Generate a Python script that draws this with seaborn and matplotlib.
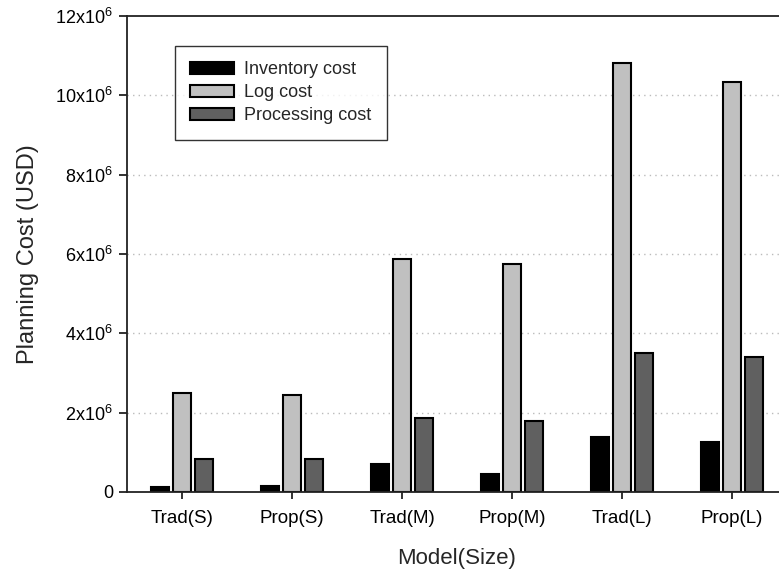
import matplotlib.pyplot as plt
import matplotlib.ticker as mticker
import pandas as pd
import seaborn as sns

sns.set_theme(style="ticks")
plt.rcParams["font.family"] = ["Liberation Sans", "DejaVu Sans"]
plt.rcParams["mathtext.fontset"] = "custom"
plt.rcParams["mathtext.rm"] = "Liberation Sans"
plt.rcParams["mathtext.it"] = "Liberation Sans"
plt.rcParams["mathtext.bf"] = "Liberation Sans:bold"

models = ["Trad(S)", "Prop(S)", "Trad(M)", "Prop(M)", "Trad(L)", "Prop(L)"]
inventory_cost = [0.12e6, 0.14e6, 0.71e6, 0.45e6, 1.39e6, 1.26e6]
log_cost = [2.49e6, 2.45e6, 5.87e6, 5.75e6, 10.82e6, 10.34e6]
processing_cost = [0.83e6, 0.82e6, 1.87e6, 1.78e6, 3.50e6, 3.40e6]
series_names = ["Inventory cost", "Log cost", "Processing cost"]
colors = ["#000000", "#C0C0C0", "#606060"]

rows = []
for name, vals in zip(series_names, [inventory_cost, log_cost, processing_cost]):
    for m, v in zip(models, vals):
        rows.append({"model": m, "cost": name, "value": v})
df = pd.DataFrame(rows)

fig = plt.figure(figsize=(7.79, 5.74), dpi=100)
W, H = 779, 574
# axes right edge lies just outside the picture, as in the reference
ax = fig.add_axes([127 / W, 1 - 492 / H, (787 - 127) / W, (492 - 16) / H])

sns.barplot(data=df, x="model", y="value", hue="cost", hue_order=series_names,
            palette=colors, width=0.6, gap=0.15, edgecolor="black", linewidth=1.5,
            saturation=1, ax=ax, legend=True)

ax.set_xlim(-0.5, 5.5)
ax.set_ylim(0, 12e6)
ax.yaxis.set_major_locator(mticker.MultipleLocator(2e6))


def fmt(v, pos):
    n = int(round(v / 1e6))
    if n == 0:
        return "0"
    return f"{n}x10$^{{6}}$"


ax.yaxis.set_major_formatter(mticker.FuncFormatter(fmt))
for y in [2e6, 4e6, 6e6, 8e6, 10e6]:
    ax.axhline(y, color="#BBBBBB", linestyle=(0, (1, 3)), linewidth=1, zorder=0)

for side in ["left", "bottom", "top", "right"]:
    ax.spines[side].set_color("#222222")
    ax.spines[side].set_linewidth(1.3)

ax.tick_params(axis="y", direction="out", length=6, width=1.3, labelsize=13, pad=4, colors="#222222",
               labelcolor="black")
ax.tick_params(axis="x", direction="out", length=5, width=1.3, labelsize=13.5, pad=8, colors="#222222",
               labelcolor="black")

ax.set_xlabel("Model(Size)", fontsize=16, labelpad=15)
ax.set_ylabel("Planning Cost (USD)", fontsize=17, labelpad=12)

leg = ax.legend(loc="upper left", bbox_to_anchor=(0.0727, 0.937), fontsize=13, frameon=True,
                fancybox=False, edgecolor="black", handlelength=2.4, handleheight=0.7,
                labelspacing=0.33, borderpad=0.85, handletextpad=0.6, borderaxespad=0)
leg.get_frame().set_linewidth(1.0)

fig.savefig("out.png", dpi=100)
